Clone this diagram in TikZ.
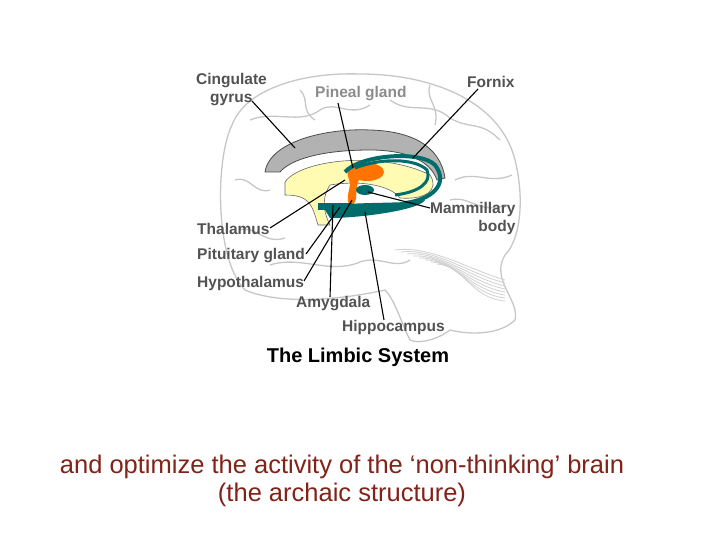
\documentclass[tikz,border=0pt]{standalone}
\usepackage{fontspec}
\setmainfont{Liberation Sans}
\begin{document}
\begin{tikzpicture}[x=1pt,y=-1pt,
  lab/.style={font=\bfseries\fontsize{15.5}{18}\selectfont,text=black!68,inner sep=0pt,align=left},
  lead/.style={black,line width=1.1pt},
  outl/.style={black!22,line width=1.3pt,line join=round}]
\useasboundingbox[fill=white] (0,0) rectangle (720,540);
% brain outline
\draw[outl] (245,290) .. controls (215,260) and (215,160) .. (232,125)
  .. controls (245,90) and (300,72) .. (360,74)
  .. controls (430,74) and (500,100) .. (515,160)
  .. controls (525,200) and (520,240) .. (505,255)
  .. controls (490,280) and (520,300) .. (515,320)
  .. controls (500,335) and (470,335) .. (450,330)
  .. controls (440,338) and (420,345) .. (410,340)
  .. controls (400,320) and (395,300) .. (385,290)
  .. controls (340,300) and (280,305) .. (245,290);
% sulci
\draw[outl] (250,120) .. controls (275,110) and (300,125) .. (320,110) .. controls (335,100) and (350,118) .. (370,105);
\draw[outl] (390,100) .. controls (410,115) and (430,100) .. (450,118) .. controls (470,130) and (480,120) .. (500,140);
\draw[outl] (235,180) .. controls (250,175) and (255,195) .. (270,190);
\draw[outl] (240,230) .. controls (255,225) and (265,245) .. (285,238);
\draw[outl] (270,265) .. controls (300,255) and (330,275) .. (360,262) .. controls (380,255) and (395,270) .. (410,260);
\draw[outl] (450,200) .. controls (470,195) and (480,215) .. (505,205);
\draw[outl] (455,180) .. controls (475,170) and (490,185) .. (512,175);
\draw[outl] (300,90) .. controls (310,100) and (300,110) .. (315,120);
\draw[outl] (430,85) .. controls (425,100) and (440,105) .. (435,125);
\foreach \i in {0,...,7}{\draw[black!18,line width=0.8pt] (395+6*\i,250+2*\i) .. controls (430+5*\i,245+3*\i) and (470,270+4*\i) .. (505,280+3*\i);}
% yellow
\filldraw[fill=yellow!30,draw=black!60,line width=0.6pt] (285,182) .. controls (300,160) and (380,150) .. (430,175)
  .. controls (440,190) and (425,200) .. (400,198)
  .. controls (390,185) and (360,180) .. (330,185)
  .. controls (320,200) and (325,215) .. (330,225) -- (318,225)
  .. controls (312,205) and (310,195) .. (285,195) -- cycle;
% cingulate gray band
\filldraw[fill=black!30,draw=black!70,line width=0.8pt]
  (265,172) .. controls (270,140) and (330,128) .. (370,130)
  .. controls (410,131) and (440,145) .. (445,178)
  -- (437,180) .. controls (430,160) and (405,150) .. (370,150)
  .. controls (320,150) and (290,160) .. (280,172) -- cycle;
% orange
\fill[orange!90!red] (367,172) ellipse (17 and 9);
\fill[orange!90!red] (350,168) .. controls (360,165) and (362,175) .. (358,182)
  .. controls (355,192) and (358,200) .. (353,205) .. controls (345,205) and (348,195) .. (350,185) .. controls (350,178) and (344,172) .. (350,168);
% teal fornix and hippocampus
\draw[teal!85!black,line width=4pt] (345,172) .. controls (360,155) and (420,150) .. (435,165)
  .. controls (450,185) and (430,200) .. (405,203);
\draw[teal!85!black,line width=3pt] (355,168) .. controls (380,158) and (415,158) .. (427,170)
  .. controls (432,182) and (420,192) .. (395,195);
\fill[teal!85!black] (325,210) .. controls (330,200) and (400,205) .. (425,200)
  .. controls (420,210) and (360,218) .. (330,218) -- cycle;
\fill[teal!85!black] (318,203) rectangle (352,210);
\fill[teal!85!black] (365,190) ellipse (9 and 5);
% labels
\node[lab,anchor=west] (cg) at (196,90) {Cingulate\\\hspace*{14pt}gyrus};
\node[lab,anchor=west,text=black!45] (pg) at (315,94) {Pineal gland};
\node[lab,anchor=west] (fx) at (467,82) {Fornix};
\node[lab,anchor=west,align=right] (mb) at (430,218) {Mammillary\\body};
\node[lab,anchor=west] (th) at (197,229) {Thalamus};
\node[lab,anchor=west] (pt) at (197,256) {Pituitary gland};
\node[lab,anchor=west] (hy) at (197,283) {Hypothalamus};
\node[lab,anchor=west] (am) at (296,304) {Amygdala};
\node[lab,anchor=west] (hc) at (342,327) {Hippocampus};
\node[font=\bfseries\fontsize{20}{22}\selectfont,inner sep=0pt] (title) at (358,357) {The Limbic System};
% leaders
\coordinate (cgE) at (295,148); \coordinate (pgE) at (353,168);
\coordinate (fxE) at (413,158); \coordinate (mbE) at (368,192);
\coordinate (thE) at (345,180); \coordinate (ptE) at (340,207);
\coordinate (hyE) at (352,200); \coordinate (amE) at (333,205);
\coordinate (hcE) at (365,212);
\draw[lead] (252,101) -- (cgE);
\draw[lead] (338,103) -- (pgE);
\draw[lead] (478,89) -- (fxE);
\draw[lead] (430,208) -- (mbE);
\draw[lead] (270,228) -- (thE);
\draw[lead] (306,254) -- (ptE);
\draw[lead] (304,281) -- (hyE);
\draw[lead] (330,297) -- (amE);
\draw[lead] (384,320) -- (hcE);
% caption
\node[text={rgb,255:red,130;green,35;blue,25},font=\fontsize{25.5}{28}\selectfont,align=center] (cap) at (342,481)
 {and optimize the activity of the ‘non-thinking’ brain\\(the archaic structure)};
\end{tikzpicture}
\end{document}
